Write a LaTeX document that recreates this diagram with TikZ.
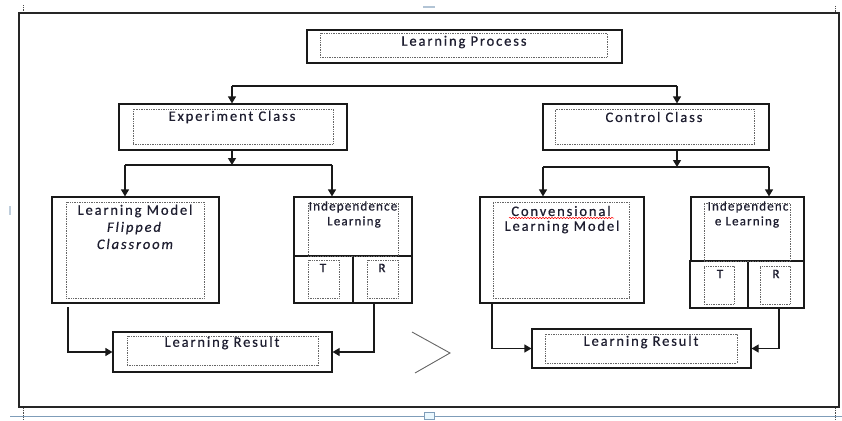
\documentclass[tikz,border=0pt]{standalone}
\usepackage{fontspec}
\setmainfont{Carlito}
\newfontfamily\lblfont{Carlito}[LetterSpace=13,FakeBold=0.6]
\newfontfamily\tightfont{Carlito}[LetterSpace=9,FakeBold=0.6]
\usetikzlibrary{arrows.meta,fit,decorations.pathmorphing}
\definecolor{txt}{HTML}{1E1E30}
\definecolor{selblue}{HTML}{7F9DB9}
\begin{document}
\begin{tikzpicture}[x=1pt,y=-1pt,
  box/.style={draw=black!90, line width=1.2pt, inner sep=0pt},
  dotbox/.style={draw=black!60, densely dotted, line width=0.7pt, inner sep=0pt},
  lbl/.style={font=\lblfont\fontsize{14.5}{16}\selectfont, text=txt, inner sep=0pt},
  lblit/.style={font=\lblfont\itshape\fontsize{14.5}{16}\selectfont, text=txt, inner sep=0pt},
  tlbl/.style={font=\tightfont\fontsize{13}{15}\selectfont, text=txt, inner sep=0pt},
  conn/.style={line width=1.2pt, black!90},
  arr/.style={conn, -{Triangle[width=8pt,length=7pt]}}]
\useasboundingbox (0,0) rectangle (842,420);

% outer frame and selection artifacts
\draw[line width=1.2pt, black!85] (19,13) rectangle (839,407);
\draw[selblue, line width=0.8pt] (10,416) -- (842,416);
\draw[selblue, fill=cyan!8] (424,412) rectangle (434,419);
\draw[selblue!60, line width=1.5pt] (423,7) -- (435,7);
\draw[selblue!50, line width=2pt] (10,206) -- (10,215);
\draw[black!70, densely dotted, line width=0.8pt] (23,5) -- (23,12);
\draw[black!70, densely dotted, line width=0.8pt] (835,6) -- (835,12);
\draw[black!70, densely dotted, line width=0.8pt] (23,408) -- (23,420);
\draw[black!70, densely dotted, line width=0.8pt] (835,408) -- (835,420);

% Learning Process
\node[box, fit={(307,30) (622,63)}] (LP) {};
\node[dotbox, fit={(320,33) (607,57)}] (LPi) {};
\node[lbl] (tLP) at (464,42) {Learning Process};

% Experiment Class
\node[box, fit={(119,104) (347,150)}] (EC) {};
\node[dotbox, fit={(133,109) (333,144)}] (ECi) {};
\node[lbl] (tEC) at (232,117) {Experiment Class};

% Control Class
\node[box, fit={(543,104) (769,150)}] (CC) {};
\node[dotbox, fit={(555,109) (754,144)}] (CCi) {};
\node[lbl] (tCC) at (654,117) {Control Class};

% Learning Model Flipped Classroom
\node[box, fit={(52,197) (219,303)}] (LM) {};
\node[dotbox, fit={(66,202) (204,298)}] (LMi) {};
\node[lbl] (tLM1) at (135,211) {Learning Model};
\node[lblit] (tLM2) at (134,228) {Flipped};
\node[lblit] (tLM3) at (135,244) {Classroom};

% Independence Learning (experiment)
\node[box, fit={(294,197) (412,303)}] (IL) {};
\draw[conn] (294,256) -- (412,256);
\draw[conn] (353,256) -- (353,303);
\node[dotbox, fit={(308,203) (398,256)}] (ILi) {};
\node[dotbox, fit={(308,260) (339,298)}] (ILT) {};
\node[dotbox, fit={(367,260) (398,298)}] (ILR) {};
\node[tlbl] (tIL1) at (353,207) {Independence};
\node[tlbl] (tIL2) at (354,222) {Learning};
\node[tlbl] (tILT) at (323,268) {T};
\node[tlbl] (tILR) at (382,268) {R};

% Convensional Learning Model
\node[box, fit={(480,197) (644,303)}] (CLM) {};
\node[dotbox, fit={(493,202) (629,298)}] (CLMi) {};
\node[lbl] (tCLM1) at (561,211) {Convensional};
\draw[red, line width=0.5pt, decorate, decoration={snake, amplitude=0.7pt, segment length=3pt}] (509,218) -- (614,218);
\node[lbl] (tCLM2) at (562,227) {Learning Model};

% Independence Learning (control)
\node[box, fit={(691,197) (804,261)}] (IL2) {};
\node[box, fit={(690,261) (804,308)}] (IL2b) {};
\draw[conn] (748,261) -- (748,308);
\node[dotbox, fit={(704,203) (790,261)}] (IL2i) {};
\node[dotbox, fit={(704,266) (734,304)}] (IL2T) {};
\node[dotbox, fit={(760,266) (790,304)}] (IL2R) {};
\node[tlbl] (tIL21) at (748,207) {Independenc};
\node[tlbl] (tIL22) at (747,222) {e Learning};
\node[tlbl] (tIL2T) at (720,274) {T};
\node[tlbl] (tIL2R) at (776,274) {R};

% Learning Result (experiment)
\node[box, fit={(113,332) (332,372)}] (LR1) {};
\node[dotbox, fit={(127,336) (318,365)}] (LR1i) {};
\node[lbl] (tLR1) at (222,343) {Learning Result};

% Learning Result (control)
\node[box, fit={(532,329) (751,368)}] (LR2) {};
\node[dotbox, fit={(545,334) (737,363)}] (LR2i) {};
\node[lbl] (tLR2) at (641,342) {Learning Result};

% greater-than sign
\draw[black!60, line width=0.9pt] (412,332) -- (450,353) -- (415,373);

% connectors: Learning Process split
\coordinate (s1L) at (232,86);
\coordinate (s1R) at (677,86);
\draw[conn] (s1L) -- (s1R);
\draw[arr] (s1L) -- (s1L |- EC.north);
\draw[arr] (s1R) -- (s1R |- CC.north);

% Experiment split
\coordinate (s2) at (232,165);
\coordinate (s2L) at (125,165);
\coordinate (s2R) at (332,165);
\draw[arr] (EC.south -| s2) -- (s2);
\draw[conn] (s2L) -- (s2R);
\draw[arr] (s2L) -- (s2L |- LM.north);
\draw[arr] (s2R) -- (s2R |- IL.north);

% Control split
\coordinate (s3) at (677,167);
\coordinate (s3L) at (543,167);
\coordinate (s3R) at (769,167);
\draw[arr] (CC.south -| s3) -- (s3);
\draw[conn] (s3L) -- (s3R);
\draw[arr] (s3L) -- (s3L |- CLM.north);
\draw[arr] (s3R) -- (s3R |- IL2.north);

% to Learning Result (experiment)
\coordinate (b1) at (68,307);
\coordinate (b2) at (374,303);
\draw[arr] (b1) |- (LR1.west);
\draw[arr] (IL.south -| b2) |- (LR1.east);

% to Learning Result (control)
\coordinate (b3) at (492,303);
\coordinate (b4) at (779,308);
\draw[arr] (CLM.south -| b3) |- (LR2.west);
\draw[arr] (IL2b.south -| b4) |- (LR2.east);
\end{tikzpicture}
\end{document}
